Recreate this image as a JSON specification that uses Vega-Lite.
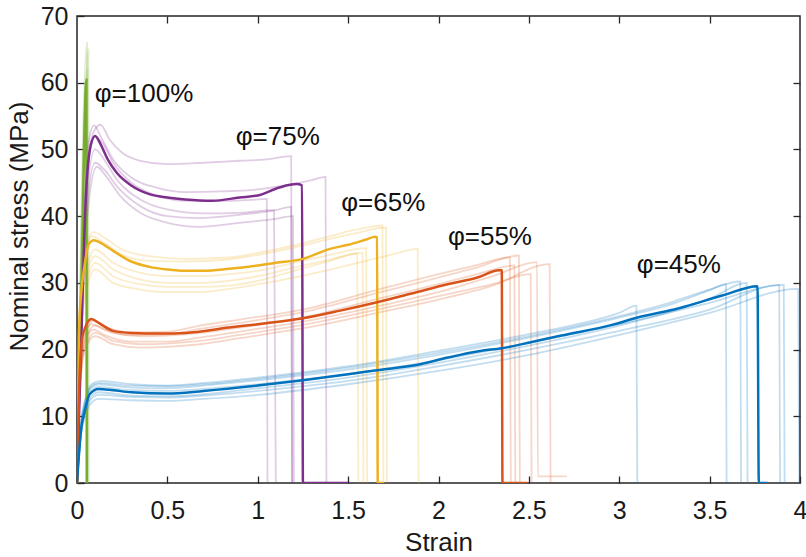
{
"$schema":"https://vega.github.io/schema/vega-lite/v6.json",
"width":723,"height":467,"autosize":"none",
"padding":{"left":77,"top":16,"right":6,"bottom":74},
"background":"white",
"config":{"font":"Liberation Sans","view":{"stroke":"#262626","strokeWidth":1.5},
"axis":{"domain":false,"grid":false,"labelFlush":false,"tickSize":-7,"tickColor":"#262626","tickWidth":1.3,"labelFontSize":25,"labelColor":"#1a1a1a","titleFontSize":26,"titleFontWeight":"normal","titleColor":"#1a1a1a","labelFont":"Liberation Sans","titleFont":"Liberation Sans"}},
"datasets":{
"labels":[{"t":"φ=100%","x":0.098,"y":57.1},{"t":"φ=75%","x":0.878,"y":50.7},{"t":"φ=65%","x":1.462,"y":40.7},{"t":"φ=55%","x":2.052,"y":35.6},{"t":"φ=45%","x":3.097,"y":31.5}],
"curves":[
{"s":"G1","g":"100","k":"light","x":0,"y":0},{"s":"G1","g":"100","k":"light","x":0.055,"y":66},{"s":"G1","g":"100","k":"light","x":0.057,"y":0},
{"s":"G2","g":"100","k":"light","x":0,"y":0},{"s":"G2","g":"100","k":"light","x":0.063,"y":65},{"s":"G2","g":"100","k":"light","x":0.065,"y":0},
{"s":"G3","g":"100","k":"light","x":0,"y":0},{"s":"G3","g":"100","k":"light","x":0.058,"y":62},{"s":"G3","g":"100","k":"light","x":0.06,"y":0},
{"s":"P1","g":"75","k":"light","x":0,"y":0},{"s":"P1","g":"75","k":"light","x":0.05,"y":45},{"s":"P1","g":"75","k":"light","x":0.09,"y":52.5},{"s":"P1","g":"75","k":"light","x":0.13,"y":53.7},{"s":"P1","g":"75","k":"light","x":0.18,"y":51.5},{"s":"P1","g":"75","k":"light","x":0.25,"y":49.5},{"s":"P1","g":"75","k":"light","x":0.35,"y":48.3},{"s":"P1","g":"75","k":"light","x":0.5,"y":47.8},{"s":"P1","g":"75","k":"light","x":0.7,"y":48},{"s":"P1","g":"75","k":"light","x":0.9,"y":48.3},{"s":"P1","g":"75","k":"light","x":1.05,"y":48.5},{"s":"P1","g":"75","k":"light","x":1.185,"y":49},{"s":"P1","g":"75","k":"light","x":1.19,"y":0},
{"s":"P2","g":"75","k":"light","x":0,"y":0},{"s":"P2","g":"75","k":"light","x":0.04,"y":42},{"s":"P2","g":"75","k":"light","x":0.07,"y":52},{"s":"P2","g":"75","k":"light","x":0.094,"y":53.6},{"s":"P2","g":"75","k":"light","x":0.13,"y":52},{"s":"P2","g":"75","k":"light","x":0.2,"y":48.5},{"s":"P2","g":"75","k":"light","x":0.3,"y":45.8},{"s":"P2","g":"75","k":"light","x":0.45,"y":44.2},{"s":"P2","g":"75","k":"light","x":0.6,"y":43.6},{"s":"P2","g":"75","k":"light","x":0.8,"y":43.7},{"s":"P2","g":"75","k":"light","x":1.0,"y":44},{"s":"P2","g":"75","k":"light","x":1.15,"y":44.6},{"s":"P2","g":"75","k":"light","x":1.3,"y":45.4},{"s":"P2","g":"75","k":"light","x":1.375,"y":45.9},{"s":"P2","g":"75","k":"light","x":1.38,"y":0},
{"s":"P3","g":"75","k":"light","x":0,"y":0},{"s":"P3","g":"75","k":"light","x":0.05,"y":44},{"s":"P3","g":"75","k":"light","x":0.1,"y":52},{"s":"P3","g":"75","k":"light","x":0.14,"y":51},{"s":"P3","g":"75","k":"light","x":0.2,"y":48},{"s":"P3","g":"75","k":"light","x":0.3,"y":45},{"s":"P3","g":"75","k":"light","x":0.45,"y":43},{"s":"P3","g":"75","k":"light","x":0.6,"y":42.3},{"s":"P3","g":"75","k":"light","x":0.8,"y":42.3},{"s":"P3","g":"75","k":"light","x":1.0,"y":42.5},{"s":"P3","g":"75","k":"light","x":1.05,"y":42.6},{"s":"P3","g":"75","k":"light","x":1.054,"y":0},
{"s":"P4","g":"75","k":"light","x":0,"y":0},{"s":"P4","g":"75","k":"light","x":0.05,"y":42},{"s":"P4","g":"75","k":"light","x":0.1,"y":50},{"s":"P4","g":"75","k":"light","x":0.15,"y":48.5},{"s":"P4","g":"75","k":"light","x":0.22,"y":45.5},{"s":"P4","g":"75","k":"light","x":0.35,"y":42.5},{"s":"P4","g":"75","k":"light","x":0.5,"y":41},{"s":"P4","g":"75","k":"light","x":0.7,"y":40.4},{"s":"P4","g":"75","k":"light","x":0.9,"y":40.5},{"s":"P4","g":"75","k":"light","x":1.09,"y":40.9},{"s":"P4","g":"75","k":"light","x":1.1,"y":0},
{"s":"P5","g":"75","k":"light","x":0,"y":0},{"s":"P5","g":"75","k":"light","x":0.05,"y":40},{"s":"P5","g":"75","k":"light","x":0.1,"y":48},{"s":"P5","g":"75","k":"light","x":0.15,"y":47},{"s":"P5","g":"75","k":"light","x":0.22,"y":44.5},{"s":"P5","g":"75","k":"light","x":0.35,"y":41.5},{"s":"P5","g":"75","k":"light","x":0.5,"y":40},{"s":"P5","g":"75","k":"light","x":0.68,"y":39.7},{"s":"P5","g":"75","k":"light","x":0.9,"y":40.2},{"s":"P5","g":"75","k":"light","x":1.1,"y":40.9},{"s":"P5","g":"75","k":"light","x":1.185,"y":41.4},{"s":"P5","g":"75","k":"light","x":1.19,"y":0},
{"s":"P6","g":"75","k":"light","x":0,"y":0},{"s":"P6","g":"75","k":"light","x":0.05,"y":38},{"s":"P6","g":"75","k":"light","x":0.11,"y":47.4},{"s":"P6","g":"75","k":"light","x":0.16,"y":46},{"s":"P6","g":"75","k":"light","x":0.24,"y":43},{"s":"P6","g":"75","k":"light","x":0.35,"y":40.5},{"s":"P6","g":"75","k":"light","x":0.5,"y":39},{"s":"P6","g":"75","k":"light","x":0.68,"y":38.4},{"s":"P6","g":"75","k":"light","x":0.9,"y":39},{"s":"P6","g":"75","k":"light","x":1.1,"y":39.6},{"s":"P6","g":"75","k":"light","x":1.195,"y":40},{"s":"P6","g":"75","k":"light","x":1.2,"y":0},
{"s":"Y1","g":"65","k":"light","x":0,"y":0},{"s":"Y1","g":"65","k":"light","x":0.012,"y":22},{"s":"Y1","g":"65","k":"light","x":0.04,"y":33},{"s":"Y1","g":"65","k":"light","x":0.09,"y":37.6},{"s":"Y1","g":"65","k":"light","x":0.15,"y":36.8},{"s":"Y1","g":"65","k":"light","x":0.25,"y":35},{"s":"Y1","g":"65","k":"light","x":0.4,"y":34},{"s":"Y1","g":"65","k":"light","x":0.6,"y":33.6},{"s":"Y1","g":"65","k":"light","x":0.84,"y":33.8},{"s":"Y1","g":"65","k":"light","x":1.0,"y":34.5},{"s":"Y1","g":"65","k":"light","x":1.2,"y":35.6},{"s":"Y1","g":"65","k":"light","x":1.4,"y":37},{"s":"Y1","g":"65","k":"light","x":1.55,"y":38},{"s":"Y1","g":"65","k":"light","x":1.69,"y":38.6},{"s":"Y1","g":"65","k":"light","x":1.695,"y":0},
{"s":"Y2","g":"65","k":"light","x":0,"y":0},{"s":"Y2","g":"65","k":"light","x":0.012,"y":21},{"s":"Y2","g":"65","k":"light","x":0.04,"y":32},{"s":"Y2","g":"65","k":"light","x":0.08,"y":37},{"s":"Y2","g":"65","k":"light","x":0.15,"y":36},{"s":"Y2","g":"65","k":"light","x":0.25,"y":34.2},{"s":"Y2","g":"65","k":"light","x":0.4,"y":33.3},{"s":"Y2","g":"65","k":"light","x":0.6,"y":33.2},{"s":"Y2","g":"65","k":"light","x":0.84,"y":33.5},{"s":"Y2","g":"65","k":"light","x":1.0,"y":34.2},{"s":"Y2","g":"65","k":"light","x":1.2,"y":35.3},{"s":"Y2","g":"65","k":"light","x":1.4,"y":36.6},{"s":"Y2","g":"65","k":"light","x":1.55,"y":37.5},{"s":"Y2","g":"65","k":"light","x":1.71,"y":38.3},{"s":"Y2","g":"65","k":"light","x":1.715,"y":0},
{"s":"Y3","g":"65","k":"light","x":0,"y":0},{"s":"Y3","g":"65","k":"light","x":0.012,"y":20},{"s":"Y3","g":"65","k":"light","x":0.04,"y":30},{"s":"Y3","g":"65","k":"light","x":0.1,"y":35},{"s":"Y3","g":"65","k":"light","x":0.2,"y":33},{"s":"Y3","g":"65","k":"light","x":0.35,"y":31.5},{"s":"Y3","g":"65","k":"light","x":0.5,"y":31},{"s":"Y3","g":"65","k":"light","x":0.68,"y":31},{"s":"Y3","g":"65","k":"light","x":0.84,"y":31.3},{"s":"Y3","g":"65","k":"light","x":1.0,"y":31.8},{"s":"Y3","g":"65","k":"light","x":1.2,"y":33},{"s":"Y3","g":"65","k":"light","x":1.4,"y":34.2},{"s":"Y3","g":"65","k":"light","x":1.6,"y":35.2},{"s":"Y3","g":"65","k":"light","x":1.605,"y":0},
{"s":"Y4","g":"65","k":"light","x":0,"y":0},{"s":"Y4","g":"65","k":"light","x":0.012,"y":19},{"s":"Y4","g":"65","k":"light","x":0.04,"y":29},{"s":"Y4","g":"65","k":"light","x":0.1,"y":34},{"s":"Y4","g":"65","k":"light","x":0.2,"y":32},{"s":"Y4","g":"65","k":"light","x":0.35,"y":30.5},{"s":"Y4","g":"65","k":"light","x":0.5,"y":30},{"s":"Y4","g":"65","k":"light","x":0.68,"y":30},{"s":"Y4","g":"65","k":"light","x":0.84,"y":30.3},{"s":"Y4","g":"65","k":"light","x":1.0,"y":31},{"s":"Y4","g":"65","k":"light","x":1.2,"y":32.3},{"s":"Y4","g":"65","k":"light","x":1.4,"y":33.5},{"s":"Y4","g":"65","k":"light","x":1.58,"y":34.5},{"s":"Y4","g":"65","k":"light","x":1.585,"y":0},
{"s":"Y5","g":"65","k":"light","x":0,"y":0},{"s":"Y5","g":"65","k":"light","x":0.012,"y":18},{"s":"Y5","g":"65","k":"light","x":0.04,"y":28},{"s":"Y5","g":"65","k":"light","x":0.1,"y":33},{"s":"Y5","g":"65","k":"light","x":0.2,"y":31},{"s":"Y5","g":"65","k":"light","x":0.35,"y":29.8},{"s":"Y5","g":"65","k":"light","x":0.5,"y":29.4},{"s":"Y5","g":"65","k":"light","x":0.68,"y":29.4},{"s":"Y5","g":"65","k":"light","x":0.84,"y":29.6},{"s":"Y5","g":"65","k":"light","x":1.0,"y":30.3},{"s":"Y5","g":"65","k":"light","x":1.2,"y":31.8},{"s":"Y5","g":"65","k":"light","x":1.4,"y":33.3},{"s":"Y5","g":"65","k":"light","x":1.55,"y":34.4},{"s":"Y5","g":"65","k":"light","x":1.557,"y":0},
{"s":"Y6","g":"65","k":"light","x":0,"y":0},{"s":"Y6","g":"65","k":"light","x":0.012,"y":17},{"s":"Y6","g":"65","k":"light","x":0.04,"y":27},{"s":"Y6","g":"65","k":"light","x":0.1,"y":32},{"s":"Y6","g":"65","k":"light","x":0.2,"y":30},{"s":"Y6","g":"65","k":"light","x":0.35,"y":29},{"s":"Y6","g":"65","k":"light","x":0.5,"y":28.6},{"s":"Y6","g":"65","k":"light","x":0.68,"y":28.6},{"s":"Y6","g":"65","k":"light","x":0.84,"y":29.1},{"s":"Y6","g":"65","k":"light","x":1.0,"y":29.8},{"s":"Y6","g":"65","k":"light","x":1.2,"y":30.8},{"s":"Y6","g":"65","k":"light","x":1.4,"y":32},{"s":"Y6","g":"65","k":"light","x":1.6,"y":33.3},{"s":"Y6","g":"65","k":"light","x":1.75,"y":34.3},{"s":"Y6","g":"65","k":"light","x":1.885,"y":35.1},{"s":"Y6","g":"65","k":"light","x":1.89,"y":0},
{"s":"O1","g":"55","k":"light","x":0,"y":0},{"s":"O1","g":"55","k":"light","x":0.015,"y":16},{"s":"O1","g":"55","k":"light","x":0.04,"y":22},{"s":"O1","g":"55","k":"light","x":0.09,"y":24.3},{"s":"O1","g":"55","k":"light","x":0.15,"y":23.5},{"s":"O1","g":"55","k":"light","x":0.3,"y":22.6},{"s":"O1","g":"55","k":"light","x":0.5,"y":22.7},{"s":"O1","g":"55","k":"light","x":0.68,"y":23.6},{"s":"O1","g":"55","k":"light","x":0.9,"y":24.5},{"s":"O1","g":"55","k":"light","x":1.25,"y":26},{"s":"O1","g":"55","k":"light","x":1.68,"y":29.1},{"s":"O1","g":"55","k":"light","x":2.0,"y":31.3},{"s":"O1","g":"55","k":"light","x":2.2,"y":32.6},{"s":"O1","g":"55","k":"light","x":2.395,"y":33.8},{"s":"O1","g":"55","k":"light","x":2.4,"y":0},
{"s":"O2","g":"55","k":"light","x":0,"y":0},{"s":"O2","g":"55","k":"light","x":0.015,"y":15},{"s":"O2","g":"55","k":"light","x":0.04,"y":21.5},{"s":"O2","g":"55","k":"light","x":0.08,"y":23.8},{"s":"O2","g":"55","k":"light","x":0.15,"y":23},{"s":"O2","g":"55","k":"light","x":0.3,"y":22.2},{"s":"O2","g":"55","k":"light","x":0.5,"y":22.3},{"s":"O2","g":"55","k":"light","x":0.68,"y":23.1},{"s":"O2","g":"55","k":"light","x":0.9,"y":24},{"s":"O2","g":"55","k":"light","x":1.25,"y":25.6},{"s":"O2","g":"55","k":"light","x":1.68,"y":28.6},{"s":"O2","g":"55","k":"light","x":2.0,"y":30.8},{"s":"O2","g":"55","k":"light","x":2.2,"y":32.2},{"s":"O2","g":"55","k":"light","x":2.445,"y":34.1},{"s":"O2","g":"55","k":"light","x":2.45,"y":0},
{"s":"O3","g":"55","k":"light","x":0,"y":0},{"s":"O3","g":"55","k":"light","x":0.015,"y":14},{"s":"O3","g":"55","k":"light","x":0.04,"y":20.5},{"s":"O3","g":"55","k":"light","x":0.09,"y":23},{"s":"O3","g":"55","k":"light","x":0.15,"y":22.2},{"s":"O3","g":"55","k":"light","x":0.3,"y":21.2},{"s":"O3","g":"55","k":"light","x":0.5,"y":21.2},{"s":"O3","g":"55","k":"light","x":0.68,"y":21.8},{"s":"O3","g":"55","k":"light","x":0.9,"y":22.7},{"s":"O3","g":"55","k":"light","x":1.25,"y":24.2},{"s":"O3","g":"55","k":"light","x":1.68,"y":26.6},{"s":"O3","g":"55","k":"light","x":2.0,"y":28.6},{"s":"O3","g":"55","k":"light","x":2.3,"y":31},{"s":"O3","g":"55","k":"light","x":2.545,"y":33.1},{"s":"O3","g":"55","k":"light","x":2.55,"y":1},{"s":"O3","g":"55","k":"light","x":2.71,"y":1},
{"s":"O4","g":"55","k":"light","x":0,"y":0},{"s":"O4","g":"55","k":"light","x":0.015,"y":14},{"s":"O4","g":"55","k":"light","x":0.04,"y":20},{"s":"O4","g":"55","k":"light","x":0.1,"y":22.5},{"s":"O4","g":"55","k":"light","x":0.2,"y":21.3},{"s":"O4","g":"55","k":"light","x":0.35,"y":20.8},{"s":"O4","g":"55","k":"light","x":0.5,"y":20.9},{"s":"O4","g":"55","k":"light","x":0.68,"y":21.3},{"s":"O4","g":"55","k":"light","x":0.9,"y":22.2},{"s":"O4","g":"55","k":"light","x":1.25,"y":23.7},{"s":"O4","g":"55","k":"light","x":1.68,"y":26.1},{"s":"O4","g":"55","k":"light","x":2.0,"y":28},{"s":"O4","g":"55","k":"light","x":2.3,"y":29.8},{"s":"O4","g":"55","k":"light","x":2.51,"y":31.3},{"s":"O4","g":"55","k":"light","x":2.515,"y":0},
{"s":"O5","g":"55","k":"light","x":0,"y":0},{"s":"O5","g":"55","k":"light","x":0.015,"y":13},{"s":"O5","g":"55","k":"light","x":0.04,"y":19.5},{"s":"O5","g":"55","k":"light","x":0.1,"y":22},{"s":"O5","g":"55","k":"light","x":0.2,"y":20.8},{"s":"O5","g":"55","k":"light","x":0.35,"y":20.3},{"s":"O5","g":"55","k":"light","x":0.5,"y":20.4},{"s":"O5","g":"55","k":"light","x":0.68,"y":20.8},{"s":"O5","g":"55","k":"light","x":0.9,"y":21.7},{"s":"O5","g":"55","k":"light","x":1.25,"y":23.2},{"s":"O5","g":"55","k":"light","x":1.68,"y":25.6},{"s":"O5","g":"55","k":"light","x":2.0,"y":27.5},{"s":"O5","g":"55","k":"light","x":2.3,"y":29.6},{"s":"O5","g":"55","k":"light","x":2.615,"y":32.8},{"s":"O5","g":"55","k":"light","x":2.62,"y":0},
{"s":"O6","g":"55","k":"light","x":0,"y":0},{"s":"O6","g":"55","k":"light","x":0.015,"y":15},{"s":"O6","g":"55","k":"light","x":0.04,"y":21},{"s":"O6","g":"55","k":"light","x":0.1,"y":23.6},{"s":"O6","g":"55","k":"light","x":0.2,"y":22.5},{"s":"O6","g":"55","k":"light","x":0.35,"y":22},{"s":"O6","g":"55","k":"light","x":0.5,"y":22.1},{"s":"O6","g":"55","k":"light","x":0.68,"y":22.5},{"s":"O6","g":"55","k":"light","x":0.9,"y":23.3},{"s":"O6","g":"55","k":"light","x":1.25,"y":24.8},{"s":"O6","g":"55","k":"light","x":1.68,"y":27.7},{"s":"O6","g":"55","k":"light","x":2.0,"y":29.8},{"s":"O6","g":"55","k":"light","x":2.2,"y":31.2},{"s":"O6","g":"55","k":"light","x":2.42,"y":32.6},{"s":"O6","g":"55","k":"light","x":2.425,"y":0},
{"s":"B1","g":"45","k":"light","x":0,"y":0},{"s":"B1","g":"45","k":"light","x":0.006,"y":3},{"s":"B1","g":"45","k":"light","x":0.024,"y":9.5},{"s":"B1","g":"45","k":"light","x":0.045,"y":12.5},{"s":"B1","g":"45","k":"light","x":0.08,"y":14.8},{"s":"B1","g":"45","k":"light","x":0.13,"y":15.3},{"s":"B1","g":"45","k":"light","x":0.3,"y":14.8},{"s":"B1","g":"45","k":"light","x":0.5,"y":14.6},{"s":"B1","g":"45","k":"light","x":0.7,"y":15},{"s":"B1","g":"45","k":"light","x":1.0,"y":15.8},{"s":"B1","g":"45","k":"light","x":1.5,"y":17.5},{"s":"B1","g":"45","k":"light","x":2.0,"y":19.8},{"s":"B1","g":"45","k":"light","x":2.5,"y":22.3},{"s":"B1","g":"45","k":"light","x":2.8,"y":24},{"s":"B1","g":"45","k":"light","x":3.0,"y":25.5},{"s":"B1","g":"45","k":"light","x":3.095,"y":26.6},{"s":"B1","g":"45","k":"light","x":3.1,"y":0},
{"s":"B2","g":"45","k":"light","x":0,"y":0},{"s":"B2","g":"45","k":"light","x":0.006,"y":2.8},{"s":"B2","g":"45","k":"light","x":0.024,"y":9},{"s":"B2","g":"45","k":"light","x":0.045,"y":12},{"s":"B2","g":"45","k":"light","x":0.08,"y":14.3},{"s":"B2","g":"45","k":"light","x":0.12,"y":14.8},{"s":"B2","g":"45","k":"light","x":0.3,"y":14.3},{"s":"B2","g":"45","k":"light","x":0.5,"y":14.2},{"s":"B2","g":"45","k":"light","x":0.7,"y":14.6},{"s":"B2","g":"45","k":"light","x":1.0,"y":15.4},{"s":"B2","g":"45","k":"light","x":1.5,"y":17},{"s":"B2","g":"45","k":"light","x":2.0,"y":19.2},{"s":"B2","g":"45","k":"light","x":2.5,"y":21.8},{"s":"B2","g":"45","k":"light","x":3.0,"y":24.8},{"s":"B2","g":"45","k":"light","x":3.3,"y":26.9},{"s":"B2","g":"45","k":"light","x":3.5,"y":28.9},{"s":"B2","g":"45","k":"light","x":3.59,"y":29.8},{"s":"B2","g":"45","k":"light","x":3.594,"y":0},
{"s":"B3","g":"45","k":"light","x":0,"y":0},{"s":"B3","g":"45","k":"light","x":0.006,"y":2.9},{"s":"B3","g":"45","k":"light","x":0.024,"y":9.2},{"s":"B3","g":"45","k":"light","x":0.045,"y":12.2},{"s":"B3","g":"45","k":"light","x":0.08,"y":14.5},{"s":"B3","g":"45","k":"light","x":0.12,"y":15},{"s":"B3","g":"45","k":"light","x":0.3,"y":14.6},{"s":"B3","g":"45","k":"light","x":0.5,"y":14.5},{"s":"B3","g":"45","k":"light","x":0.7,"y":14.8},{"s":"B3","g":"45","k":"light","x":1.0,"y":15.6},{"s":"B3","g":"45","k":"light","x":1.5,"y":17.3},{"s":"B3","g":"45","k":"light","x":2.0,"y":19.5},{"s":"B3","g":"45","k":"light","x":2.5,"y":22},{"s":"B3","g":"45","k":"light","x":3.0,"y":25},{"s":"B3","g":"45","k":"light","x":3.3,"y":27.2},{"s":"B3","g":"45","k":"light","x":3.5,"y":29},{"s":"B3","g":"45","k":"light","x":3.67,"y":30.2},{"s":"B3","g":"45","k":"light","x":3.674,"y":0},
{"s":"B4","g":"45","k":"light","x":0,"y":0},{"s":"B4","g":"45","k":"light","x":0.006,"y":2.4},{"s":"B4","g":"45","k":"light","x":0.024,"y":8},{"s":"B4","g":"45","k":"light","x":0.045,"y":10.8},{"s":"B4","g":"45","k":"light","x":0.08,"y":13},{"s":"B4","g":"45","k":"light","x":0.12,"y":13.6},{"s":"B4","g":"45","k":"light","x":0.3,"y":13.1},{"s":"B4","g":"45","k":"light","x":0.5,"y":13},{"s":"B4","g":"45","k":"light","x":0.7,"y":13.3},{"s":"B4","g":"45","k":"light","x":1.0,"y":14.2},{"s":"B4","g":"45","k":"light","x":1.5,"y":15.8},{"s":"B4","g":"45","k":"light","x":2.0,"y":18},{"s":"B4","g":"45","k":"light","x":2.5,"y":20.6},{"s":"B4","g":"45","k":"light","x":3.0,"y":23.6},{"s":"B4","g":"45","k":"light","x":3.3,"y":25.8},{"s":"B4","g":"45","k":"light","x":3.5,"y":27.6},{"s":"B4","g":"45","k":"light","x":3.705,"y":30},{"s":"B4","g":"45","k":"light","x":3.71,"y":0},
{"s":"B5","g":"45","k":"light","x":0,"y":0},{"s":"B5","g":"45","k":"light","x":0.006,"y":2.3},{"s":"B5","g":"45","k":"light","x":0.024,"y":7.8},{"s":"B5","g":"45","k":"light","x":0.045,"y":10.5},{"s":"B5","g":"45","k":"light","x":0.08,"y":12.6},{"s":"B5","g":"45","k":"light","x":0.12,"y":13.2},{"s":"B5","g":"45","k":"light","x":0.3,"y":12.9},{"s":"B5","g":"45","k":"light","x":0.5,"y":12.8},{"s":"B5","g":"45","k":"light","x":0.7,"y":13.1},{"s":"B5","g":"45","k":"light","x":1.0,"y":13.8},{"s":"B5","g":"45","k":"light","x":1.5,"y":15.3},{"s":"B5","g":"45","k":"light","x":2.0,"y":17.5},{"s":"B5","g":"45","k":"light","x":2.5,"y":20},{"s":"B5","g":"45","k":"light","x":3.0,"y":22.8},{"s":"B5","g":"45","k":"light","x":3.5,"y":26},{"s":"B5","g":"45","k":"light","x":3.885,"y":29.7},{"s":"B5","g":"45","k":"light","x":3.89,"y":0},
{"s":"B6","g":"45","k":"light","x":0,"y":0},{"s":"B6","g":"45","k":"light","x":0.006,"y":2.6},{"s":"B6","g":"45","k":"light","x":0.024,"y":8.6},{"s":"B6","g":"45","k":"light","x":0.045,"y":11.5},{"s":"B6","g":"45","k":"light","x":0.08,"y":13.8},{"s":"B6","g":"45","k":"light","x":0.12,"y":14.4},{"s":"B6","g":"45","k":"light","x":0.3,"y":13.9},{"s":"B6","g":"45","k":"light","x":0.5,"y":13.8},{"s":"B6","g":"45","k":"light","x":0.7,"y":14.1},{"s":"B6","g":"45","k":"light","x":1.0,"y":14.8},{"s":"B6","g":"45","k":"light","x":1.5,"y":16.3},{"s":"B6","g":"45","k":"light","x":2.0,"y":18.4},{"s":"B6","g":"45","k":"light","x":2.5,"y":21},{"s":"B6","g":"45","k":"light","x":3.0,"y":23.8},{"s":"B6","g":"45","k":"light","x":3.5,"y":27},{"s":"B6","g":"45","k":"light","x":3.91,"y":29.7},{"s":"B6","g":"45","k":"light","x":3.915,"y":0},
{"s":"B7","g":"45","k":"light","x":0,"y":0},{"s":"B7","g":"45","k":"light","x":0.006,"y":2.2},{"s":"B7","g":"45","k":"light","x":0.024,"y":7.5},{"s":"B7","g":"45","k":"light","x":0.045,"y":10},{"s":"B7","g":"45","k":"light","x":0.08,"y":12},{"s":"B7","g":"45","k":"light","x":0.12,"y":12.6},{"s":"B7","g":"45","k":"light","x":0.3,"y":12.4},{"s":"B7","g":"45","k":"light","x":0.5,"y":12.3},{"s":"B7","g":"45","k":"light","x":0.7,"y":12.6},{"s":"B7","g":"45","k":"light","x":1.0,"y":13.2},{"s":"B7","g":"45","k":"light","x":1.5,"y":14.8},{"s":"B7","g":"45","k":"light","x":2.0,"y":16.8},{"s":"B7","g":"45","k":"light","x":2.5,"y":19.2},{"s":"B7","g":"45","k":"light","x":3.0,"y":22.2},{"s":"B7","g":"45","k":"light","x":3.5,"y":25.5},{"s":"B7","g":"45","k":"light","x":3.99,"y":29.1},{"s":"B7","g":"45","k":"light","x":3.996,"y":0},
{"s":"GM","g":"100","k":"main","x":0,"y":0},{"s":"GM","g":"100","k":"main","x":0.026,"y":31},{"s":"GM","g":"100","k":"main","x":0.052,"y":60.5},{"s":"GM","g":"100","k":"main","x":0.054,"y":0},
{"s":"PM","g":"75","k":"main","x":0,"y":0},{"s":"PM","g":"75","k":"main","x":0.02,"y":18},{"s":"PM","g":"75","k":"main","x":0.048,"y":42.3},{"s":"PM","g":"75","k":"main","x":0.075,"y":50.5},{"s":"PM","g":"75","k":"main","x":0.1,"y":52},{"s":"PM","g":"75","k":"main","x":0.13,"y":50.8},{"s":"PM","g":"75","k":"main","x":0.17,"y":48.5},{"s":"PM","g":"75","k":"main","x":0.22,"y":46.5},{"s":"PM","g":"75","k":"main","x":0.3,"y":44.6},{"s":"PM","g":"75","k":"main","x":0.4,"y":43.3},{"s":"PM","g":"75","k":"main","x":0.5,"y":42.8},{"s":"PM","g":"75","k":"main","x":0.6,"y":42.5},{"s":"PM","g":"75","k":"main","x":0.75,"y":42.3},{"s":"PM","g":"75","k":"main","x":0.9,"y":42.8},{"s":"PM","g":"75","k":"main","x":1.0,"y":43.1},{"s":"PM","g":"75","k":"main","x":1.12,"y":44.3},{"s":"PM","g":"75","k":"main","x":1.215,"y":44.8},{"s":"PM","g":"75","k":"main","x":1.245,"y":44.6},{"s":"PM","g":"75","k":"main","x":1.25,"y":0},{"s":"PM","g":"75","k":"main","x":1.5,"y":0},
{"s":"YM","g":"65","k":"main","x":0,"y":0},{"s":"YM","g":"65","k":"main","x":0.011,"y":22.4},{"s":"YM","g":"65","k":"main","x":0.025,"y":29},{"s":"YM","g":"65","k":"main","x":0.04,"y":32.3},{"s":"YM","g":"65","k":"main","x":0.065,"y":35.8},{"s":"YM","g":"65","k":"main","x":0.094,"y":36.4},{"s":"YM","g":"65","k":"main","x":0.13,"y":36},{"s":"YM","g":"65","k":"main","x":0.2,"y":34.8},{"s":"YM","g":"65","k":"main","x":0.3,"y":33.2},{"s":"YM","g":"65","k":"main","x":0.4,"y":32.4},{"s":"YM","g":"65","k":"main","x":0.5,"y":32},{"s":"YM","g":"65","k":"main","x":0.6,"y":31.8},{"s":"YM","g":"65","k":"main","x":0.7,"y":31.8},{"s":"YM","g":"65","k":"main","x":0.84,"y":32.1},{"s":"YM","g":"65","k":"main","x":1.0,"y":32.6},{"s":"YM","g":"65","k":"main","x":1.1,"y":33},{"s":"YM","g":"65","k":"main","x":1.25,"y":33.6},{"s":"YM","g":"65","k":"main","x":1.4,"y":35.1},{"s":"YM","g":"65","k":"main","x":1.5,"y":35.7},{"s":"YM","g":"65","k":"main","x":1.6,"y":36.5},{"s":"YM","g":"65","k":"main","x":1.65,"y":36.9},{"s":"YM","g":"65","k":"main","x":1.66,"y":36.8},{"s":"YM","g":"65","k":"main","x":1.664,"y":0},{"s":"YM","g":"65","k":"main","x":1.7,"y":0},
{"s":"OM","g":"55","k":"main","x":0,"y":0},{"s":"OM","g":"55","k":"main","x":0.015,"y":16.5},{"s":"OM","g":"55","k":"main","x":0.033,"y":22.3},{"s":"OM","g":"55","k":"main","x":0.08,"y":24.6},{"s":"OM","g":"55","k":"main","x":0.12,"y":24},{"s":"OM","g":"55","k":"main","x":0.2,"y":22.8},{"s":"OM","g":"55","k":"main","x":0.3,"y":22.5},{"s":"OM","g":"55","k":"main","x":0.47,"y":22.4},{"s":"OM","g":"55","k":"main","x":0.6,"y":22.5},{"s":"OM","g":"55","k":"main","x":0.84,"y":23.3},{"s":"OM","g":"55","k":"main","x":1.0,"y":23.8},{"s":"OM","g":"55","k":"main","x":1.25,"y":24.7},{"s":"OM","g":"55","k":"main","x":1.45,"y":25.8},{"s":"OM","g":"55","k":"main","x":1.66,"y":27.1},{"s":"OM","g":"55","k":"main","x":1.85,"y":28.4},{"s":"OM","g":"55","k":"main","x":2.05,"y":29.8},{"s":"OM","g":"55","k":"main","x":2.215,"y":30.8},{"s":"OM","g":"55","k":"main","x":2.335,"y":31.9},{"s":"OM","g":"55","k":"main","x":2.35,"y":31.9},{"s":"OM","g":"55","k":"main","x":2.354,"y":0},{"s":"OM","g":"55","k":"main","x":2.49,"y":0},
{"s":"BM","g":"45","k":"main","x":0,"y":0},{"s":"BM","g":"45","k":"main","x":0.006,"y":2.5},{"s":"BM","g":"45","k":"main","x":0.024,"y":8.3},{"s":"BM","g":"45","k":"main","x":0.043,"y":10.8},{"s":"BM","g":"45","k":"main","x":0.07,"y":13.3},{"s":"BM","g":"45","k":"main","x":0.12,"y":14.1},{"s":"BM","g":"45","k":"main","x":0.2,"y":13.9},{"s":"BM","g":"45","k":"main","x":0.3,"y":13.6},{"s":"BM","g":"45","k":"main","x":0.5,"y":13.4},{"s":"BM","g":"45","k":"main","x":0.7,"y":13.8},{"s":"BM","g":"45","k":"main","x":1.0,"y":14.6},{"s":"BM","g":"45","k":"main","x":1.25,"y":15.4},{"s":"BM","g":"45","k":"main","x":1.5,"y":16.3},{"s":"BM","g":"45","k":"main","x":1.66,"y":16.9},{"s":"BM","g":"45","k":"main","x":1.9,"y":17.8},{"s":"BM","g":"45","k":"main","x":2.05,"y":18.8},{"s":"BM","g":"45","k":"main","x":2.23,"y":19.8},{"s":"BM","g":"45","k":"main","x":2.35,"y":20.2},{"s":"BM","g":"45","k":"main","x":2.51,"y":21.1},{"s":"BM","g":"45","k":"main","x":2.68,"y":22.1},{"s":"BM","g":"45","k":"main","x":2.96,"y":23.7},{"s":"BM","g":"45","k":"main","x":3.1,"y":24.8},{"s":"BM","g":"45","k":"main","x":3.33,"y":26.2},{"s":"BM","g":"45","k":"main","x":3.57,"y":28.1},{"s":"BM","g":"45","k":"main","x":3.765,"y":29.5},{"s":"BM","g":"45","k":"main","x":3.772,"y":0},{"s":"BM","g":"45","k":"main","x":3.82,"y":0}
]},
"layer":[
{"data":{"name":"curves"},"transform":[{"filter":"datum.k == 'light'"}],
"mark":{"type":"line","strokeWidth":1.8,"opacity":0.24,"clip":true,"interpolate":"monotone"},
"encoding":{
"x":{"field":"x","type":"quantitative","scale":{"domain":[0,4],"nice":false},"axis":{"values":[0,0.5,1,1.5,2,2.5,3,3.5,4],"format":"~g","title":"Strain","labelPadding":22,"titlePadding":6}},
"y":{"field":"y","type":"quantitative","scale":{"domain":[0,70],"nice":false},"axis":{"values":[0,10,20,30,40,50,60,70],"title":"Nominal stress (MPa)","labelPadding":16,"titlePadding":8,"titleY":210}},
"color":{"field":"g","type":"nominal","scale":{"domain":["100","75","65","55","45"],"range":["#77AC30","#7E2F8E","#EDB120","#D95319","#0072BD"]},"legend":null},
"detail":{"field":"s"}}},
{"data":{"name":"curves"},"transform":[{"filter":"datum.k == 'main'"}],
"mark":{"type":"line","strokeWidth":2.5,"clip":true,"interpolate":"monotone"},
"encoding":{
"x":{"field":"x","type":"quantitative","axis":null},
"y":{"field":"y","type":"quantitative","axis":null},
"color":{"field":"g","type":"nominal","legend":null},
"detail":{"field":"s"}}},
{"data":{"name":"labels"},
"mark":{"type":"text","align":"left","baseline":"alphabetic","fontSize":26,"font":"Liberation Sans","color":"#111"},
"encoding":{"x":{"field":"x","type":"quantitative","axis":null},"y":{"field":"y","type":"quantitative","axis":null},"text":{"field":"t"}}},
{"data":{"name":"labels"},
"mark":{"type":"point","opacity":0},
"encoding":{"x":{"field":"x","type":"quantitative","axis":{"orient":"top","values":[0.5,1,1.5,2,2.5,3,3.5],"labels":false,"title":null}},"y":{"field":"y","type":"quantitative","axis":{"orient":"right","values":[10,20,30,40,50,60],"labels":false,"title":null}}}}
],
"resolve":{"axis":{"x":"independent","y":"independent"}}
}
